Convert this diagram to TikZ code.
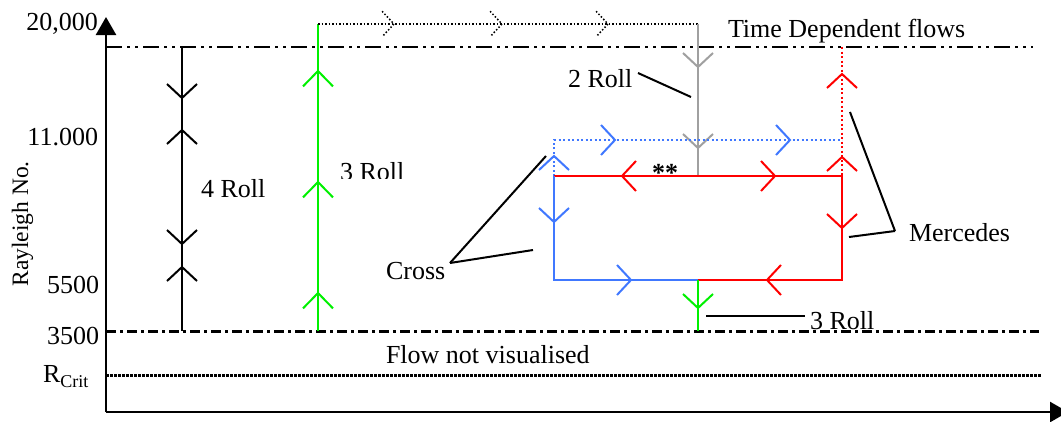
\documentclass[tikz,border=0pt]{standalone}
\usepackage{fontspec}
\setmainfont{Liberation Serif}
\usetikzlibrary{arrows.meta}

\definecolor{rollblue}{RGB}{64,120,255}
\definecolor{rollgreen}{RGB}{0,240,0}
\definecolor{rollred}{RGB}{255,0,0}
\definecolor{rollgray}{RGB}{160,160,160}

\tikzset{
  hup/.pic={\draw (-15,14) -- (0,0) -- (15,14);},
  hdown/.pic={\draw (-15,-14) -- (0,0) -- (15,-14);},
  hright/.pic={\draw (-14,-15) -- (0,0) -- (-14,15);},
  hleft/.pic={\draw (14,-15) -- (0,0) -- (14,15);},
  lbl/.style={inner sep=0pt, anchor=base west},
  lblr/.style={inner sep=0pt, anchor=base east},
  axis/.style={line width=2.5pt, -{Triangle[length=18pt,width=20pt]}},
  bandtop/.style={line width=2.5pt, dash pattern=on 16pt off 5pt on 3pt off 5pt on 3pt off 5pt},
  bandlow/.style={line width=3pt, dash pattern=on 10pt off 4pt on 3pt off 4pt},
  critline/.style={line width=3pt, dash pattern=on 2.5pt off 1.5pt},
  fineDots/.style={line width=1.5pt, dash pattern=on 1.5pt off 2pt},
  colDots/.style={line width=2pt, dash pattern=on 2pt off 2.5pt},
  leader/.style={line width=2pt},
}

\begin{document}
\begin{tikzpicture}[x=1pt, y=-1pt, line width=2pt,
  font=\fontsize{26}{30}\selectfont]
\useasboundingbox (0,0) rectangle (1061,421);

% axes
\coordinate (O) at (106,412);
\coordinate (ytop) at (106,17);
\coordinate (xend) at (1068,412);
\draw[axis] (O) -- (ytop);
\draw[axis] (O) -- (xend);

% regime boundaries
\coordinate (tdL) at (106,47);   \coordinate (tdR) at (1033,47);
\coordinate (lowL) at (106,331); \coordinate (lowR) at (1039,331);
\coordinate (crL) at (106,375);  \coordinate (crR) at (1041,375);
\draw[bandtop] (tdL) -- (tdR);
\draw[bandlow] (lowL) -- (lowR);
\draw[critline] (crL) -- (crR);

% axis labels
\node[lblr] (r20) at (99,30) {20,000};
\node[lblr] (r11) at (99,145) {11.000};
\node[lblr] (r55) at (100,293) {5500};
\node[lblr] (r35) at (100,344) {3500};
\node[lbl] (rc) at (42,382) {R\raisebox{-5pt}{\fontsize{18}{20}\selectfont Crit}};
\node[inner sep=0pt, anchor=base, rotate=90, font=\fontsize{23.5}{28}\selectfont]
  (ray) at (28,224) {Rayleigh No.};

% 4 roll branch
\coordinate (b4top) at (182,47);
\coordinate (b4bot) at (182,331);
\draw (b4top) -- (b4bot);
\pic at (182,98) {hdown};
\pic at (182,130) {hup};
\pic at (182,244) {hdown};
\pic at (182,267) {hup};
\node[lbl] (l4) at (200,197) {4 Roll};

% 3 roll branch rising into the time dependent region
\coordinate (g3bot) at (318,331);
\coordinate (g3top) at (318,24);
\coordinate (g2top) at (698,24);
\coordinate (redtopmid) at (698,176);
\draw[rollgreen] (g3bot) -- (g3top);
\begin{scope}[rollgreen]
  \pic[yscale=1.1] at (318,71) {hup};
  \pic[yscale=1.1] at (318,182) {hup};
  \pic[yscale=1.1] at (318,293) {hup};
\end{scope}
\begin{scope}
  \clip (330,150) rectangle (420,178);
  \node[lbl] (l3a) at (339,180) {3 Roll};
\end{scope}
\draw[fineDots] (g3top) -- (g2top);
\begin{scope}[fineDots]
  \pic[scale=0.85] at (394,24) {hright};
  \pic[scale=0.85] at (502,24) {hright};
  \pic[scale=0.85] at (608,24) {hright};
\end{scope}

% 2 roll branch
\draw[rollgray] (g2top) -- (redtopmid);
\begin{scope}[rollgray]
  \pic at (698,67) {hdown};
  \pic at (698,148) {hdown};
\end{scope}
\node[lbl] (l2) at (567,87) {2 Roll};
\coordinate (l2a) at (638,73);
\coordinate (l2b) at (691,97);
\draw[leader] (l2a) -- (l2b);

\node[lbl] (ltd) at (727,37) {Time Dependent flows};

% cross and mercedes loop
\coordinate (TL) at (554,176);
\coordinate (TR) at (842,176);
\coordinate (BL) at (554,280);
\coordinate (BR) at (842,280);
\coordinate (BM) at (698,280);
\coordinate (dotTL) at (554,140);
\coordinate (dotTR) at (842,140);
\coordinate (redUp) at (842,47);
\coordinate (g1bot) at (698,331);

\draw[rollred, colDots] (redUp) -- (TR);
\draw[rollblue, colDots] (TL) -- (dotTL) -- (dotTR);
\begin{scope}[rollblue]
  \pic at (615,140) {hright};
  \pic at (790,140) {hright};
  \pic at (554,156) {hup};
\end{scope}
\begin{scope}[rollred]
  \pic at (842,74) {hup};
  \pic at (842,157) {hup};
\end{scope}

\draw[rollred] (TL) -- (TR) -- (BR) -- (BM);
\draw[rollblue] (TL) -- (BL) -- (BM);
\begin{scope}[rollred]
  \pic at (622,176) {hleft};
  \pic at (775,176) {hright};
  \pic at (842,228) {hdown};
  \pic at (767,280) {hleft};
\end{scope}
\begin{scope}[rollblue]
  \pic at (554,222) {hdown};
  \pic at (631,280) {hright};
\end{scope}
\node[lbl] (stars) at (651,181) {\textbf{**}};

% 3 roll branch descending from the loop
\draw[rollgreen] (BM) -- (g1bot);
\pic[rollgreen] at (698,308) {hdown};
\coordinate (l3ba) at (706,316);
\coordinate (l3bb) at (805,316);
\draw[leader] (l3ba) -- (l3bb);
\node[lbl] (l3b) at (809,329) {3 Roll};

% labels with leaders
\node[lbl] (lcross) at (385,279) {Cross};
\coordinate (cx) at (450,263);
\coordinate (cxa) at (546,156);
\coordinate (cxb) at (533,250);
\draw[leader] (cx) -- (cxa);
\draw[leader] (cx) -- (cxb);

\node[lbl] (lmerc) at (908,241) {Mercedes};
\coordinate (mx) at (895,231);
\coordinate (mxa) at (850,112);
\coordinate (mxb) at (849,237);
\draw[leader] (mx) -- (mxa);
\draw[leader] (mx) -- (mxb);

\node[lbl] (lflow) at (385,363) {Flow not visualised};
\end{tikzpicture}
\end{document}
